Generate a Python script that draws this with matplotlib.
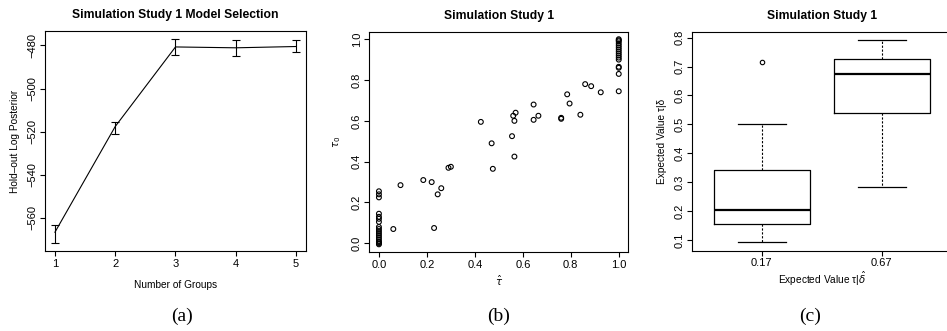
import numpy as np
import matplotlib
matplotlib.use("Agg")
import matplotlib.pyplot as plt

plt.rcParams["font.family"] = ["Liberation Sans", "DejaVu Sans"]
plt.rcParams["font.size"] = 7.3
plt.rcParams["axes.linewidth"] = 0.8

# (a) model selection
groups = [1, 2, 3, 4, 5]
post_mean = [-566.6, -517.6, -480.7, -481.1, -480.5]
post_lo = [-571.5, -521.1, -484.6, -484.9, -483.2]
post_hi = [-563.3, -515.3, -477.2, -477.4, -477.7]

# (b) tau-hat vs tau_0
tau_hat = [0.0] * 18 + [0.06, 0.09, 0.185, 0.22, 0.23, 0.245, 0.26, 0.29, 0.30,
           0.425, 0.47, 0.475, 0.555, 0.56, 0.565, 0.565, 0.57, 0.645, 0.645,
           0.665, 0.76, 0.76, 0.785, 0.795, 0.84, 0.86, 0.885, 0.925] + [1.0] * 16
tau_0 = [0.255, 0.24, 0.225, 0.145, 0.13, 0.12, 0.105, 0.08, 0.07, 0.06, 0.05,
         0.04, 0.03, 0.02, 0.01, 0.005, 0.0, -0.005,
         0.07, 0.285, 0.31, 0.30, 0.075, 0.24, 0.27, 0.37, 0.375,
         0.595, 0.49, 0.365, 0.525, 0.625, 0.60, 0.425, 0.64, 0.68, 0.605,
         0.625, 0.61, 0.615, 0.73, 0.685, 0.63, 0.78, 0.77, 0.74,
         1.0, 0.995, 0.99, 0.98, 0.97, 0.96, 0.95, 0.94, 0.93, 0.92, 0.91,
         0.90, 0.865, 0.86, 0.83, 0.745]

# (c) boxplot summaries
box_labels = ["0.17", "0.67"]
box_low = [0.093, 0.283]
box_q1 = [0.156, 0.54]
box_med = [0.203, 0.673]
box_q3 = [0.342, 0.725]
box_high = [0.50, 0.79]
box_outliers = [[0.714], []]

fig = plt.figure(figsize=(9.47, 3.31), dpi=100)

def r_style(ax):
    ax.tick_params(direction="out", length=3.5, width=0.8, pad=2, labelsize=8)
    for lab in ax.get_yticklabels():
        lab.set_rotation(90)
        lab.set_va("center")

# (a)
ax1 = fig.add_axes([0.0475, 0.2417, 0.2756, 0.6647])
yerr = [np.array(post_mean) - np.array(post_lo), np.array(post_hi) - np.array(post_mean)]
ax1.errorbar(groups, post_mean, yerr=yerr, color="black", lw=0.8, capsize=3,
             elinewidth=0.8, capthick=0.8)
ax1.set_xlim(0.835, 5.165)
ax1.set_ylim(-575.3, -473.3)
ax1.set_xticks(groups)
ax1.set_yticks([-560, -540, -520, -500, -480])
ax1.set_xlabel("Number of Groups", labelpad=8)
ax1.set_ylabel("Hold\u2013out Log Posterior", labelpad=5)
ax1.set_title("Simulation Study 1 Model Selection", fontsize=8.7, fontweight="bold", pad=9)
r_style(ax1)

# (b)
ax2 = fig.add_axes([0.39, 0.2378, 0.2735, 0.6665])
ax2.scatter(tau_hat, tau_0, s=12, facecolors="none", edgecolors="black", linewidths=0.8)
ax2.set_xlim(-0.04, 1.04)
ax2.set_ylim(-0.044, 1.037)
ax2.set_xticks([0.0, 0.2, 0.4, 0.6, 0.8, 1.0])
ax2.set_yticks([0.0, 0.2, 0.4, 0.6, 0.8, 1.0])
ax2.xaxis.set_major_formatter(matplotlib.ticker.FormatStrFormatter("%.1f"))
ax2.yaxis.set_major_formatter(matplotlib.ticker.FormatStrFormatter("%.1f"))
ax2.set_xlabel(r"$\hat{\tau}$", labelpad=3)
ax2.set_ylabel(r"$\tau_0$", labelpad=6)
ax2.set_title("Simulation Study 1", fontsize=8.7, fontweight="bold", pad=9)
r_style(ax2)

# (c)
ax3 = fig.add_axes([0.7307, 0.2425, 0.2738, 0.6616])
stats = []
for i in range(len(box_labels)):
    stats.append(dict(whislo=box_low[i], q1=box_q1[i], med=box_med[i], q3=box_q3[i],
                      whishi=box_high[i], fliers=box_outliers[i], label=box_labels[i]))
ax3.bxp(stats, positions=[1, 2], widths=0.8, showfliers=True,
        boxprops=dict(color="black", lw=0.9),
        medianprops=dict(color="black", lw=1.6),
        whiskerprops=dict(color="black", lw=0.8, linestyle=(0, (2, 1.5))),
        capprops=dict(color="black", lw=0.9), capwidths=0.4,
        flierprops=dict(marker="o", markersize=3.2, markerfacecolor="none",
                        markeredgecolor="black", markeredgewidth=0.8))
ax3.set_xlim(0.42, 2.58)
ax3.set_ylim(0.064, 0.82)
ax3.set_yticks([0.1, 0.2, 0.3, 0.4, 0.5, 0.6, 0.7, 0.8])
ax3.set_xlabel("Expected Value \u03c4|$\\hat{\\delta}$", labelpad=1)
ax3.set_ylabel("Expected Value \u03c4|\u03b4", labelpad=5)
ax3.set_title("Simulation Study 1", fontsize=8.7, fontweight="bold", pad=9)
r_style(ax3)

for x, s in [(0.192, "(a)"), (0.526, "(b)"), (0.855, "(c)")]:
    fig.text(x, 0.045, s, ha="center", va="center", fontsize=14, family="Liberation Serif")

fig.savefig("out.png", dpi=100)
